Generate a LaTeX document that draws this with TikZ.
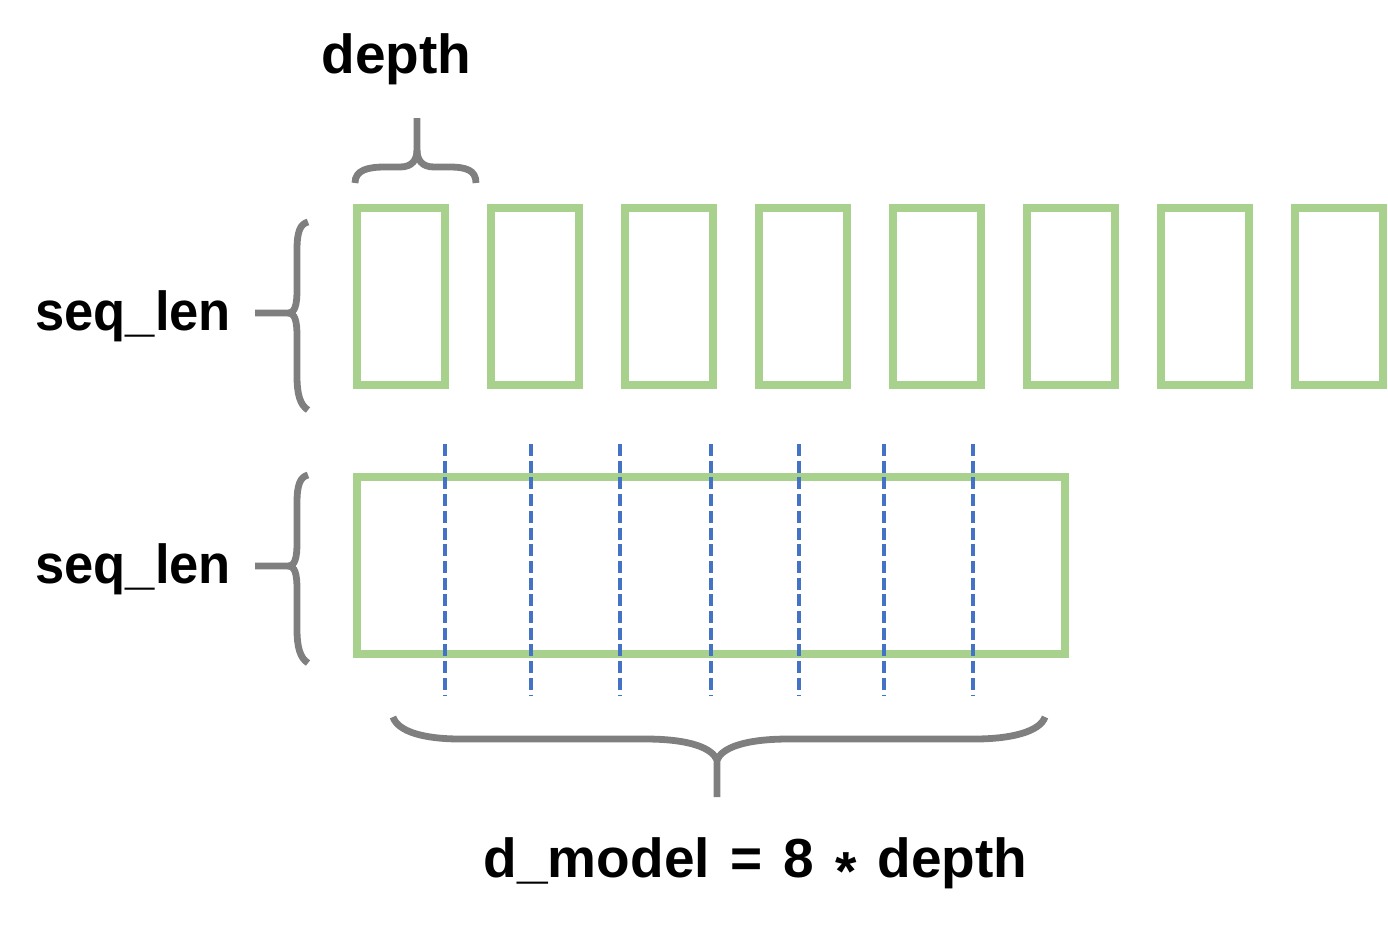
\documentclass[tikz,border=0pt]{standalone}
\usepackage{fontspec}
\usepackage{graphicx}
\setmainfont{Liberation Sans}
\definecolor{boxgreen}{HTML}{A9D18E}
\definecolor{bracegray}{HTML}{7F7F7F}
\definecolor{dashblue}{HTML}{4472C4}
\begin{document}
\begin{tikzpicture}[x=0.5pt,y=-0.5pt,
  cell/.style={draw=boxgreen,line width=4pt,minimum width=44pt,minimum height=88.5pt,inner sep=0pt,outer sep=0pt},
  bigcell/.style={draw=boxgreen,line width=4pt,minimum width=354pt,minimum height=88.5pt,inner sep=0pt,outer sep=0pt},
  splitline/.style={draw=dashblue,line width=2pt,dash pattern=on 6pt off 2.35pt},
  bracepath/.style={draw=bracegray,line width=3.4pt},
  lbl/.style={font=\bfseries\fontsize{27.5pt}{33pt}\selectfont,inner sep=0pt,text=black}]
\useasboundingbox (0,0) rectangle (1388,926);
% top row of eight cells
\foreach \i in {0,...,7}{
  \node[cell] (c\i) at ({401+134*\i},296.5) {};
}
% wide cell
\node[bigcell] (big) at (711,565.5) {};
% dashed split lines
\foreach \xx [count=\k] in {445,531,620,711,799,884,973}{
  \coordinate (s\k) at (\xx,444);
  \coordinate (e\k) at (\xx,695);
  \draw[splitline] (s\k) -- (e\k);
}
% labels
\node[lbl,anchor=base] (depthlbl) at (396.5,73) {depth};
\node[lbl,anchor=base west] (seq1) at (35,330) {\scalebox{0.955}[1]{seq\_len}};
\node[lbl,anchor=base west] (seq2) at (35,583) {\scalebox{0.955}[1]{seq\_len}};
\node[lbl,anchor=base] (dmodel) at (755.5,877) {d\_model\hspace{2.8pt} = \hspace{2.8pt}8\hspace{2.8pt} \raisebox{-6.5pt}{*}\hspace{2.8pt} depth};
% top brace
\draw[bracepath] (355,183) .. controls (355,170) and (368,167) .. (385,167) -- (400,167) .. controls (412,167) and (417,160) .. (417,150) -- (417,118);
\draw[bracepath] (417,150) .. controls (417,160) and (422,167) .. (434,167) -- (449,167) .. controls (466,167) and (476,170) .. (476,183);
% left braces
\foreach \dy in {0,253}{
  \draw[bracepath] (308,222+\dy) .. controls (300,224+\dy) and (297,232+\dy) .. (297,250+\dy) -- (297,290+\dy) .. controls (297,305+\dy) and (295,313+\dy) .. (288,313+\dy) -- (255,313+\dy);
  \draw[bracepath] (288,313+\dy) .. controls (295,313+\dy) and (297,321+\dy) .. (297,336+\dy) -- (297,376+\dy) .. controls (297,394+\dy) and (300,405+\dy) .. (308,410+\dy);
}
% bottom brace
\draw[bracepath] (393,717) .. controls (398,732) and (425,739) .. (460,739) -- (645,739) .. controls (690,739) and (712,748) .. (717,760) -- (717,797);
\draw[bracepath] (717,760) .. controls (722,748) and (744,739) .. (789,739) -- (975,739) .. controls (1010,739) and (1040,732) .. (1045,717);
\end{tikzpicture}
\end{document}
